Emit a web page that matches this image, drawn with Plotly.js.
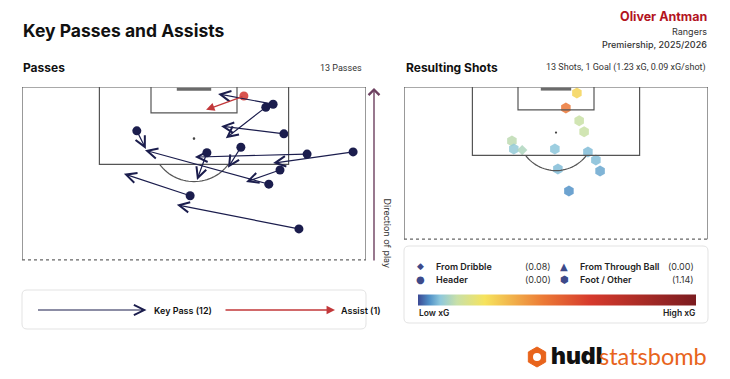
<!DOCTYPE html>
<html><head><meta charset="utf-8">
<script src="https://cdn.plot.ly/plotly-3.0.1.min.js"></script>
<style>html,body{margin:0;padding:0;background:#fff;}#chart{width:730px;height:379px;}</style>
</head><body><div id="chart"></div>
<script>
// ---------- DATA (pitch coords: across 0..80 left->right, up = StatsBomb x, 120 = goal line) ----------
const keyPassStartAcross = [58.4, 56.7, 60.9, 26.7, 66.3, 50.9, 77.0, 60.0, 57.4, 39.1, 64.4, 43.0];
const keyPassStartUp     = [116.0,115.3,109.1,109.8,104.4,106.0,104.9,100.7, 97.4, 94.7, 87.0,104.7];
const keyPassEndAcross   = [45.6, 47.4, 46.3, 28.8, 40.2, 47.9, 58.4, 52.1, 28.6, 23.7, 36.0, 40.7];
const keyPassEndUp       = [118.4,108.1,110.9,105.6,103.7,101.2,102.3, 97.9,105.3, 99.8, 92.6, 98.4];

const assistStartAcross = [51.6];
const assistStartUp     = [117.9];
const assistEndAcross   = [42.8];
const assistEndUp       = [114.7];

const shotAcross = [45.5, 42.6, 46.1, 47.4, 28.4, 28.9, 39.7, 48.4, 50.5, 40.5, 51.6, 43.4, 31.1];
const shotUp     = [118.4,114.5,111.1,108.2,105.8,103.7,103.7,102.9,100.8, 98.4, 97.9, 92.6,103.4];
const shotXG     = [0.19, 0.32, 0.10, 0.10, 0.09, 0.06, 0.055,0.05, 0.05, 0.05, 0.04, 0.03, 0.08];
const shotType   = ['Foot','Foot','Foot','Foot','Foot','Foot','Foot','Foot','Foot','Foot','Foot','Foot','Dribble'];

const legendShotLabels = ['From Dribble','From Through Ball','Header','Foot / Other'];
const legendShotValues = ['(0.08)','(0.00)','(0.00)','(1.14)'];
const passLegendLabels = ['Key Pass (12)','Assist (1)'];

// ---------- STYLE ----------
const W = 730, H = 379;
const NAVY = '#1b1d4d', RED = '#c2383a', LINE = '#555555';
const FONT = 'Inter, "Open Sans", sans-serif';
const PX = x => x / W, PY = y => 1 - y / H;

const xgScale = [[0,'#3b4994'],[0.04,'#4f8fc6'],[0.08,'#8ec8dc'],[0.14,'#c8e0a8'],[0.24,'#f6e35d'],[0.45,'#ec7a36'],[0.62,'#d63a2c'],[1,'#7b1c20']];

const traces = [];
traces.push({type:'scatter', mode:'markers', xaxis:'x', yaxis:'y', x:keyPassStartAcross, y:keyPassStartUp,
  marker:{size:9, color:NAVY}, hoverinfo:'skip'});
traces.push({type:'scatter', mode:'markers', xaxis:'x', yaxis:'y', x:assistStartAcross, y:assistStartUp,
  marker:{size:9, color:'#d9534f'}, hoverinfo:'skip'});
const footIdx = shotType.map((t,i)=>t==='Foot'?i:-1).filter(i=>i>=0);
const dribIdx = shotType.map((t,i)=>t==='Dribble'?i:-1).filter(i=>i>=0);
traces.push({type:'scatter', mode:'markers', xaxis:'x2', yaxis:'y2',
  x:footIdx.map(i=>shotAcross[i]), y:footIdx.map(i=>shotUp[i]),
  marker:{symbol:'hexagon', size:11, opacity:0.85, color:footIdx.map(i=>shotXG[i]), colorscale:xgScale, cmin:0, cmax:0.7,
    line:{width:0}, showscale:true,
    colorbar:{orientation:'h', x:PX(557), xanchor:'center', y:PY(299.5), yanchor:'middle', len:278, lenmode:'pixels',
      thickness:11, thicknessmode:'pixels', showticklabels:false, ticks:'', outlinewidth:0, xpad:0, ypad:0}},
  hoverinfo:'skip'});
traces.push({type:'scatter', mode:'markers', xaxis:'x2', yaxis:'y2',
  x:dribIdx.map(i=>shotAcross[i]), y:dribIdx.map(i=>shotUp[i]),
  marker:{symbol:'diamond', size:8, opacity:0.85, color:dribIdx.map(i=>shotXG[i]), colorscale:xgScale, cmin:0, cmax:0.7, line:{width:0}},
  hoverinfo:'skip'});

// ---------- SHAPES ----------
function pitchShapes(xr, yr, bottom){
  const s = [];
  const ln = (x0,y0,x1,y1,extra) => s.push(Object.assign({type:'line', xref:xr, yref:yr, x0, y0, x1, y1, line:{color:LINE, width:1.2}}, extra||{}));
  ln(0,bottom,0,120); ln(80,bottom,80,120); ln(0,120,80,120);
  ln(0,bottom,80,bottom,{line:{color:'#666', width:1.2, dash:'dot'}});
  s.push({type:'path', xref:xr, yref:yr, path:'M18,120 L18,102 L62,102 L62,120', line:{color:LINE, width:1.2}});
  s.push({type:'path', xref:xr, yref:yr, path:'M30,120 L30,114 L50,114 L50,120', line:{color:LINE, width:1.2}});
  ln(36,119.45,44,119.45,{line:{color:'#6a6a6a', width:3}});
  s.push({type:'circle', xref:xr, yref:yr, x0:39.7, x1:40.3, y0:107.7, y1:108.3, fillcolor:'#444', line:{width:0}});
  const a0 = Math.acos(0.6); let p = '';
  for(let k=0;k<=30;k++){ const t=-a0+2*a0*k/30; const ax=40+10*Math.sin(t), ay=108-10*Math.cos(t); p += (k?' L':'M')+ax.toFixed(3)+','+ay.toFixed(3); }
  s.push({type:'path', xref:xr, yref:yr, path:p, line:{color:LINE, width:1.2}});
  return s;
}
function roundRect(x0,y0,x1,y1,r){
  const X=v=>PX(v).toFixed(5), Y=v=>PY(v).toFixed(5);
  return {type:'path', xref:'paper', yref:'paper', line:{color:'#e3e3e3', width:1}, path:
    `M${X(x0+r)},${Y(y0)} L${X(x1-r)},${Y(y0)} Q${X(x1)},${Y(y0)} ${X(x1)},${Y(y0+r)} L${X(x1)},${Y(y1-r)} Q${X(x1)},${Y(y1)} ${X(x1-r)},${Y(y1)} L${X(x0+r)},${Y(y1)} Q${X(x0)},${Y(y1)} ${X(x0)},${Y(y1-r)} L${X(x0)},${Y(y0+r)} Q${X(x0)},${Y(y0)} ${X(x0+r)},${Y(y0)} Z`};
}
const shapes = [].concat(pitchShapes('x','y',79.8), pitchShapes('x2','y2',79.95));
shapes.push(roundRect(22,290,366,329,5));
shapes.push(roundRect(404,246,708,323,5));
(function(){
  const cx=537, cy=357, r=10; let p='';
  for(let k=0;k<6;k++){ const t=Math.PI/6+k*Math.PI/3; p+=(k?' L':'M')+PX(cx+r*Math.cos(t)).toFixed(5)+','+PY(cy+r*Math.sin(t)).toFixed(5);} p+=' Z';
  shapes.push({type:'path', xref:'paper', yref:'paper', path:p, fillcolor:'#e8641c', line:{color:'#e8641c', width:1}});
  shapes.push({type:'circle', xref:'paper', yref:'paper', x0:PX(cx-4), x1:PX(cx+4), y0:PY(cy+4), y1:PY(cy-4), fillcolor:'#fff', line:{width:0}});
})();

// ---------- ANNOTATIONS ----------
const ann = [];
keyPassStartAcross.forEach((_,i)=>ann.push({xref:'x', yref:'y', axref:'x', ayref:'y',
  x:keyPassEndAcross[i], y:keyPassEndUp[i], ax:keyPassStartAcross[i], ay:keyPassStartUp[i],
  text:'', showarrow:true, arrowhead:5, arrowsize:1.7, arrowwidth:1.2, arrowcolor:NAVY, standoff:0}));
assistStartAcross.forEach((_,i)=>ann.push({xref:'x', yref:'y', axref:'x', ayref:'y',
  x:assistEndAcross[i], y:assistEndUp[i], ax:assistStartAcross[i], ay:assistStartUp[i],
  text:'', showarrow:true, arrowhead:2, arrowsize:1.3, arrowwidth:1.3, arrowcolor:RED, standoff:0}));

const txt = (s, px, py, o) => ann.push(Object.assign({xref:'paper', yref:'paper', x:PX(px), y:PY(py), text:s, showarrow:false,
  xanchor:'left', yanchor:'middle', font:{family:FONT, size:9, color:'#222'}}, o||{}));

txt('<b>Key Passes and Assists</b>', 21, 30, {font:{family:FONT, size:17.5, color:'#111'}});
txt('<b>Passes</b>', 21, 68, {font:{family:FONT, size:12, color:'#111'}});
txt('13 Passes', 364, 68, {xanchor:'right', font:{family:'Roboto, sans-serif', size:9, color:'#333'}});
txt('<b>Resulting Shots</b>', 404, 68, {font:{family:FONT, size:12, color:'#111'}});
txt('13 Shots, 1 Goal (1.23 xG, 0.09 xG/shot)', 708, 68, {xanchor:'right', font:{family:'Roboto, sans-serif', size:9, color:'#333'}});
txt('<b>Oliver Antman</b>', 709, 16, {xanchor:'right', font:{family:FONT, size:12.5, color:'#b3141f'}});
txt('Rangers', 709, 32, {xanchor:'right', font:{family:FONT, size:9, color:'#333'}});
txt('Premiership, 2025/2026', 709, 44.5, {xanchor:'right', font:{family:FONT, size:9, color:'#333', weight:500}});

ann.push({xref:'paper', yref:'paper', x:PX(374), y:PY(88), ax:0, ay:174, text:'', showarrow:true,
  arrowhead:4, arrowsize:1.5, arrowwidth:1.4, arrowcolor:'#6d4060', standoff:0});
txt('Direction of play', 387.5, 233, {xanchor:'center', textangle:90, font:{family:FONT, size:9, color:'#333'}});

ann.push({xref:'paper', yref:'paper', x:PX(146.5), y:PY(310), ax:-110, ay:0, text:'', showarrow:true,
  arrowhead:5, arrowsize:1.7, arrowwidth:1.2, arrowcolor:NAVY, standoff:0});
txt(passLegendLabels[0], 152, 310, {font:{family:FONT, size:9, color:'#111', weight:600}});
ann.push({xref:'paper', yref:'paper', x:PX(335), y:PY(310), ax:-111, ay:0, text:'', showarrow:true,
  arrowhead:2, arrowsize:1.3, arrowwidth:1.3, arrowcolor:RED, standoff:0});
txt(passLegendLabels[1], 339, 310, {font:{family:FONT, size:9, color:'#111', weight:600}});

const SYM = ['\u25C6','\u25B2','\u25CF','\u2B22'];
const legPos = [[420,266],[564,266],[420,279],[564,279]];
legPos.forEach((p,i)=>{
  txt(SYM[i], p[0], p[1], {xanchor:'center', font:{family:'DejaVu Sans, sans-serif', size: i===0?9:10, color:'#3d4a8a'}});
  txt(legendShotLabels[i], p[0]+14, p[1], {font:{family:FONT, size:9, color:'#222', weight:600}});
  txt(legendShotValues[i], p[0]===420?553:696, p[1], {xanchor:'right', font:{family:FONT, size:9, color:'#333'}});
});
txt('Low xG', 417, 313, {font:{family:FONT, size:8.5, color:'#222', weight:600}});
txt('High xG', 697, 313, {xanchor:'right', font:{family:FONT, size:8.5, color:'#222', weight:600}});

txt('hudl', 549, 356, {font:{family:FONT, size:23, color:'#111', weight:900}});
txt('statsbomb', 597, 356, {font:{family:'Lato, '+FONT, size:23.5, color:'#e8641c', weight:400}});

const ax = (dom, rng, anchor) => ({domain:dom, range:rng, anchor, visible:false, fixedrange:true, showgrid:false, zeroline:false});
const layout = {
  width:W, height:H, margin:{l:0,r:0,t:0,b:0}, paper_bgcolor:'#fff', plot_bgcolor:'rgba(0,0,0,0)', showlegend:false,
  xaxis: ax([PX(22), PX(366)], [0,80], 'y'),
  yaxis: ax([PY(261), PY(87)], [120-174/4.3, 120], 'x'),
  xaxis2: ax([PX(404), PX(708)], [0,80], 'y2'),
  yaxis2: ax([PY(240), PY(87)], [120-153/3.8, 120], 'x2'),
  shapes, annotations: ann
};
Plotly.newPlot('chart', traces, layout, {staticPlot:true, displayModeBar:false});
</script></body></html>
